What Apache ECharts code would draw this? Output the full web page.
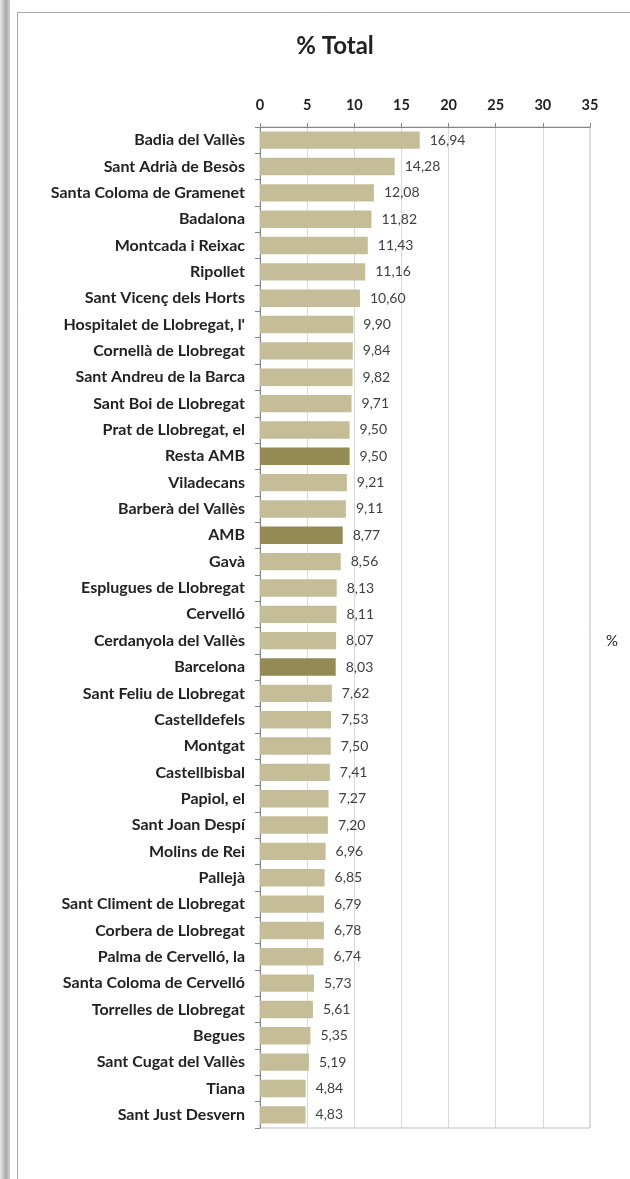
<!DOCTYPE html>
<html>
<head>
<meta charset="utf-8">
<script src="https://cdn.jsdelivr.net/npm/echarts@6/dist/echarts.min.js"></script>
<style>
html,body{margin:0;padding:0;background:#fff;}
#chart{width:630px;height:1179px;}
</style>
</head>
<body>
<div id="chart"></div>
<script>
const categories = [
  "Badia del Vallès","Sant Adrià de Besòs","Santa Coloma de Gramenet","Badalona",
  "Montcada i Reixac","Ripollet","Sant Vicenç dels Horts","Hospitalet de Llobregat, l'",
  "Cornellà de Llobregat","Sant Andreu de la Barca","Sant Boi de Llobregat","Prat de Llobregat, el",
  "Resta AMB","Viladecans","Barberà del Vallès","AMB","Gavà","Esplugues de Llobregat",
  "Cervelló","Cerdanyola del Vallès","Barcelona","Sant Feliu de Llobregat","Castelldefels",
  "Montgat","Castellbisbal","Papiol, el","Sant Joan Despí","Molins de Rei","Pallejà",
  "Sant Climent de Llobregat","Corbera de Llobregat","Palma de Cervelló, la",
  "Santa Coloma de Cervelló","Torrelles de Llobregat","Begues","Sant Cugat del Vallès",
  "Tiana","Sant Just Desvern"
];
const values = [
  16.94,14.28,12.08,11.82,11.43,11.16,10.60,9.90,9.84,9.82,9.71,9.50,
  9.50,9.21,9.11,8.77,8.56,8.13,8.11,8.07,8.03,7.62,7.53,7.50,7.41,7.27,
  7.20,6.96,6.85,6.79,6.78,6.74,5.73,5.61,5.35,5.19,4.84,4.83
];
const highlighted = ["Resta AMB","AMB","Barcelona"];
const xTicks = [0,5,10,15,20,25,30,35];
const titleText = "% Total";
const legendText = "%";

const FONT = "Lato";
const chart = echarts.init(document.getElementById('chart'));
chart.setOption({
  animation: false,
  backgroundColor: '#fff',
  title: {
    text: titleText, left: 330, top: 29, textAlign: 'center',
    textStyle: {fontFamily: FONT, fontWeight: 'bold', fontSize: 24, color: '#222'}
  },
  grid: {left: 260, right: 40, top: 127, height: 1001, show: true, borderColor: '#bfbfbf', borderWidth: 1},
  xAxis: {
    type: 'value', position: 'top', min: xTicks[0], max: xTicks[xTicks.length-1], interval: 5,
    axisLine: {show: true, lineStyle: {color: '#868686'}},
    axisTick: {show: true, length: 4, lineStyle: {color: '#868686'}},
    axisLabel: {fontFamily: FONT, fontWeight: 'bold', fontSize: 14.5, color: '#222', margin: 14},
    splitLine: {show: true, lineStyle: {color: '#d9d9d9'}}
  },
  yAxis: {
    type: 'category', inverse: true, data: categories,
    axisLine: {show: true, lineStyle: {color: '#868686'}},
    axisTick: {show: true, length: 5, lineStyle: {color: '#868686'}},
    axisLabel: {fontFamily: FONT, fontWeight: 'bold', fontSize: 16, color: '#222', margin: 15}
  },
  series: [{
    type: 'bar', data: values, barCategoryGap: '34%',
    itemStyle: {
      color: p => highlighted.includes(categories[p.dataIndex]) ? '#948A54' : '#C4BD97'
    },
    label: {
      show: true, position: 'right', distance: 10,
      fontFamily: FONT, fontSize: 14, color: '#404040',
      formatter: p => p.value.toFixed(2).replace('.', ',')
    }
  }],
  graphic: [
    {type: 'rect', shape: {x: 0, y: 0, width: 10, height: 1179}, z: -1,
     style: {fill: new echarts.graphic.LinearGradient(0,0,1,0,[{offset:0,color:'#e8e8e8'},{offset:0.6,color:'#a8a8a8'},{offset:1,color:'#d0d0d0'}])}},
    {type: 'line', shape: {x1: 17.5, y1: 12.5, x2: 17.5, y2: 1179}, style: {stroke: '#a6a6a6', lineWidth: 1}},
    {type: 'line', shape: {x1: 17.5, y1: 12.5, x2: 630, y2: 12.5}, style: {stroke: '#a6a6a6', lineWidth: 1}},
    {type: 'text', left: 606, top: 634, style: {text: legendText, fontFamily: FONT, fontSize: 15, fill: '#222'}}
  ]
});
</script>
</body>
</html>
